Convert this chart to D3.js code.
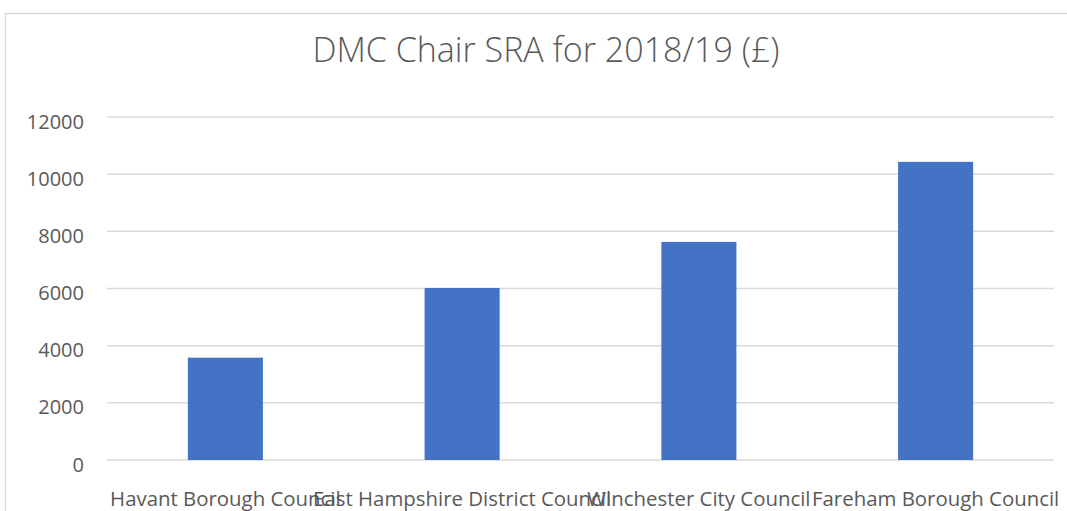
<!DOCTYPE html>
<html>
<head>
<meta charset="utf-8">
<script src="https://cdn.jsdelivr.net/npm/d3@7"></script>
<style>
  body { margin: 0; background: #fff; }
  svg { display: block; }
</style>
</head>
<body>
<svg id="chart"></svg>
<script>
var width = 1067;
var height = 511;

var councils = ["Havant Borough Council", "East Hampshire District Council", "Winchester City Council", "Fareham Borough Council"];
var sraValues = [3580, 6020, 7630, 10430];
var yTicks = [0, 2000, 4000, 6000, 8000, 10000, 12000];
var chartTitle = "DMC Chair SRA for 2018/19 (£)";

var margin = {left: 107, right: 13, top: 117, bottom: 51};

var svg = d3.select("#chart").attr("width", width).attr("height", height);

// outer chart border (bottom is cut off in the original)
svg.append("rect")
    .attr("x", 5.5)
    .attr("y", 13.5)
    .attr("width", 1080)
    .attr("height", 600)
    .attr("fill", "#fff")
    .attr("stroke", "#d9d9d9")
    .attr("stroke-width", 1.5);

var x = d3.scaleBand()
    .domain(councils)
    .range([margin.left, width - margin.right])
    .paddingInner(0.683)
    .paddingOuter(0.3415);

var y = d3.scaleLinear()
    .domain([0, 12000])
    .range([height - margin.bottom, margin.top]);

svg.append("text")
    .attr("x", 546)
    .attr("y", 62)
    .attr("text-anchor", "middle")
    .style("font-family", "'Open Sans', sans-serif")
    .style("font-weight", 300)
    .style("font-size", "34px")
    .style("fill", "#595959")
    .text(chartTitle);

// gridlines
svg.append("g")
    .selectAll("line")
    .data(yTicks)
    .enter().append("line")
    .attr("x1", margin.left)
    .attr("x2", width - margin.right)
    .attr("y1", function (d) { return y(d); })
    .attr("y2", function (d) { return y(d); })
    .style("stroke", "#d9d9d9")
    .style("stroke-width", "1.5px");

var yAxis = svg.append("g")
    .attr("transform", "translate(" + margin.left + ",0)")
    .call(d3.axisLeft(y).tickValues(yTicks).tickSize(0).tickPadding(23).tickFormat(d3.format("d")));
yAxis.select(".domain").remove();
yAxis.selectAll("text")
    .attr("dy", "0.55em")
    .style("font-family", "'Open Sans', sans-serif")
    .style("font-size", "20px")
    .style("fill", "#595959");

svg.append("g")
    .selectAll("rect")
    .data(sraValues)
    .enter().append("rect")
    .attr("x", function (d, i) { return x(councils[i]); })
    .attr("y", function (d) { return y(d); })
    .attr("width", x.bandwidth())
    .attr("height", function (d) { return y(0) - y(d); })
    .attr("fill", "#4472c4");

// labels overlap each other in the original too
var xAxis = svg.append("g")
    .attr("transform", "translate(0," + y(0) + ")")
    .call(d3.axisBottom(x).tickSize(0).tickPadding(31.5));
xAxis.select(".domain").remove();
xAxis.selectAll("text")
    .style("font-family", "'Open Sans', sans-serif")
    .style("font-size", "20.4px")
    .style("fill", "#595959");
</script>
</body>
</html>
